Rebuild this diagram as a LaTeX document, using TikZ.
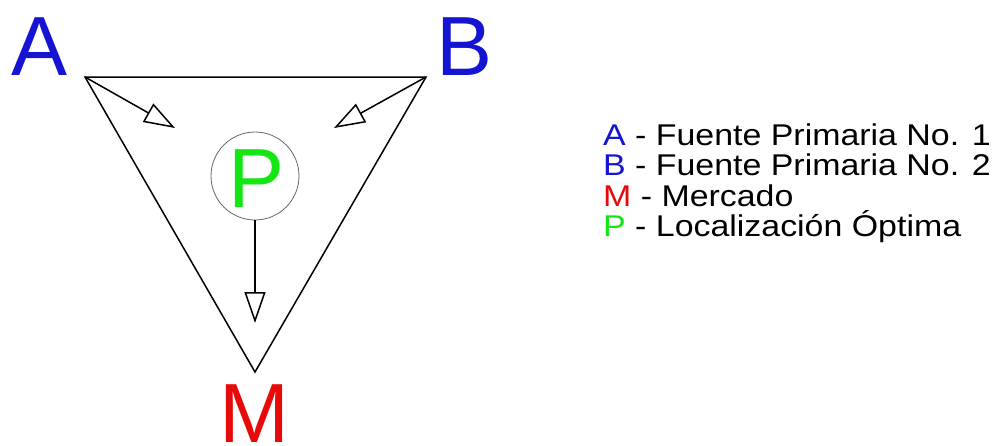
\documentclass[tikz,border=0pt]{standalone}
\usepackage{fontspec}
\setmainfont{Liberation Sans}
\newfontfamily\legendfont[FakeStretch=1.13]{Liberation Sans}
\usetikzlibrary{arrows.meta}
\definecolor{ablue}{RGB}{20,20,210}
\definecolor{mred}{RGB}{230,10,10}
\definecolor{pgreen}{RGB}{20,230,20}
\tikzset{
  big/.style={inner sep=0pt, font=\fontsize{84}{84}\selectfont},
  legend/.style={inner sep=0pt, anchor=base west, font=\legendfont\fontsize{30}{30}\selectfont},
  edge/.style={line width=1.5pt, black},
  flow/.style={line width=1.5pt, black, -{Triangle[open,length=31pt,width=21pt,line width=1.5pt,fill=white]}},
  pcircle/.style={circle, draw=gray!80!black, line width=0.8pt, minimum size=88pt, inner sep=0pt}
}
\begin{document}
\begin{tikzpicture}[x=1pt,y=-1pt]
\useasboundingbox (0,0) rectangle (994,445);
\fill[white] (0,0) rectangle (994,445);
\coordinate (A) at (85,77);
\coordinate (B) at (426,77);
\coordinate (M) at (255,372);
\coordinate (tA) at (175,128);
\coordinate (tB) at (334,128);
\coordinate (tP) at (255,323);
\draw[edge, line join=miter] (A) -- (B) -- (M) -- cycle;
\node[pcircle] (P) at (255,176) {};
\node[big, anchor=base, text=ablue] (lA) at (40,75) {A};
\node[big, anchor=base, text=ablue] (lB) at (465,75) {B};
\node[big, anchor=base, text=mred] (lM) at (254,442) {M};
\node[big, anchor=base, text=pgreen] (lP) at (257,207) {P};
\draw[flow] (A) -- (tA);
\draw[flow] (B) -- (tB);
\draw[flow] (P.south) -- (tP);
\node[legend] (g1) at (603,145) {\textcolor{ablue}{A} - Fuente Primaria No. 1};
\node[legend] (g2) at (603,175.5) {\textcolor{ablue}{B} - Fuente Primaria No. 2};
\node[legend] (g3) at (603,206) {\textcolor{mred}{M} - Mercado};
\node[legend] (g4) at (603,236.5) {\textcolor{pgreen}{P} - Localización Óptima};
\end{tikzpicture}
\end{document}
